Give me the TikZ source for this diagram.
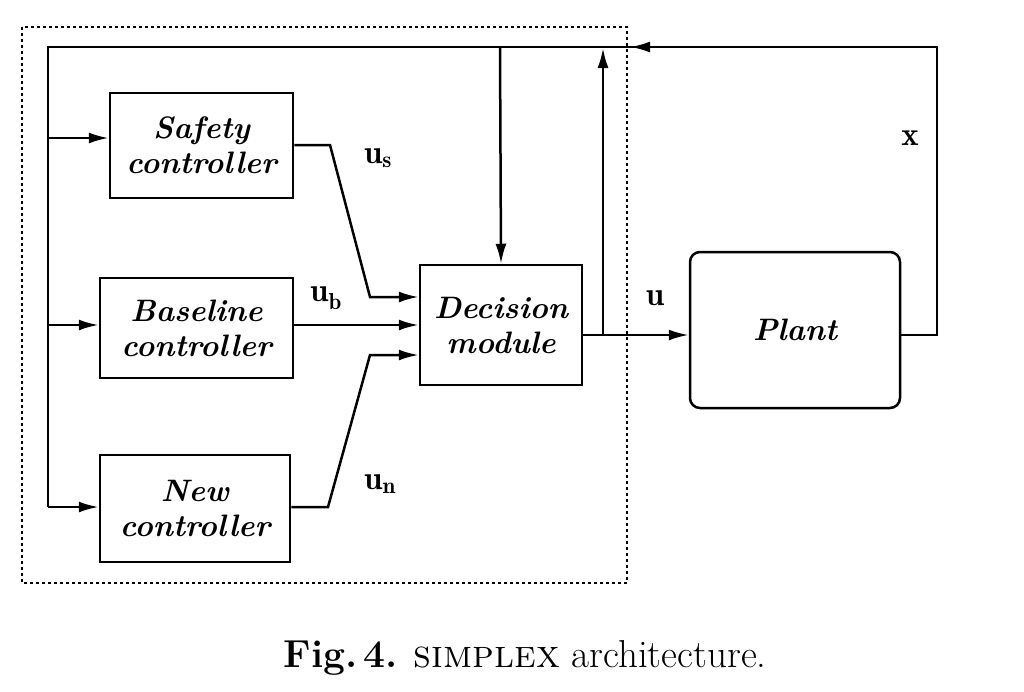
\documentclass[tikz,border=0pt]{standalone}
\usepackage{fontspec}
\usetikzlibrary{arrows.meta}
\begin{document}
\begin{tikzpicture}[x=1pt,y=-1pt,
  blk/.style={draw,line width=2.5pt,align=center,inner sep=0pt,font=\fontsize{31}{35}\selectfont\bfseries\itshape},
  wire/.style={line width=2.5pt},
  arr/.style={line width=2.5pt,-{Latex[length=20pt,width=11pt]}},
  lab/.style={font=\fontsize{33}{37}\selectfont}]
\useasboundingbox (0,0) rectangle (1024,691);
\draw[dashed,line width=1.5pt] (22,27) rectangle (627,583);
\node[blk,minimum width=183pt,minimum height=105pt] (s) at (201.5,145.5) {Safety\\controller};
\node[blk,minimum width=193pt,minimum height=100pt] (b) at (196.5,328) {Baseline\\controller};
\node[blk,minimum width=190pt,minimum height=107pt] (n) at (195,508.5) {New\\controller};
\node[blk,minimum width=162pt,minimum height=120pt] (d) at (501,325) {Decision\\module};
\node[blk,rounded corners=10pt,minimum width=210pt,minimum height=156pt] (p) at (795,330) {Plant};
\coordinate (tl) at (48,47);
\coordinate (tr) at (937,47);
\coordinate (bl) at (48,507);
\draw[wire] (p.east|-0,335) -- (937,335) -- (tr) -- (tl) -- (bl);
\draw[arr] (tr) -- (630,47);
\draw[arr] (48,138) -- (s.west|-0,138);
\draw[arr] (48,325) -- (b.west|-0,325);
\draw[arr] (bl) -- (n.west|-0,507);
\draw[arr] (500,47) -- (d.north);
\draw[arr] (d.east|-0,335) -- (p.west|-0,335);
\draw[arr] (603,335) -- (603,48);
\draw[arr] (s.east|-0,145) -- (330,145) -- (370,297) -- (d.west|-0,297);
\draw[arr] (b.east|-0,325) -- (d.west|-0,325);
\draw[arr] (n.east|-0,507) -- (328,507) -- (370,355) -- (d.west|-0,355);
\node[lab] (us) at (378,158) {$\mathbf{u}_{\mathbf{s}}$};
\node[lab] (ub) at (326,298) {$\mathbf{u}_{\mathbf{b}}$};
\node[lab] (un) at (380,484) {$\mathbf{u}_{\mathbf{n}}$};
\node[lab] (u) at (655,298) {$\mathbf{u}$};
\node[lab] (x) at (910,138) {$\mathbf{x}$};
\node[font=\fontsize{39}{43}\selectfont] (cap) at (525,658) {\textbf{Fig.\,4.} \textsc{simplex} architecture.};
\end{tikzpicture}
\end{document}
